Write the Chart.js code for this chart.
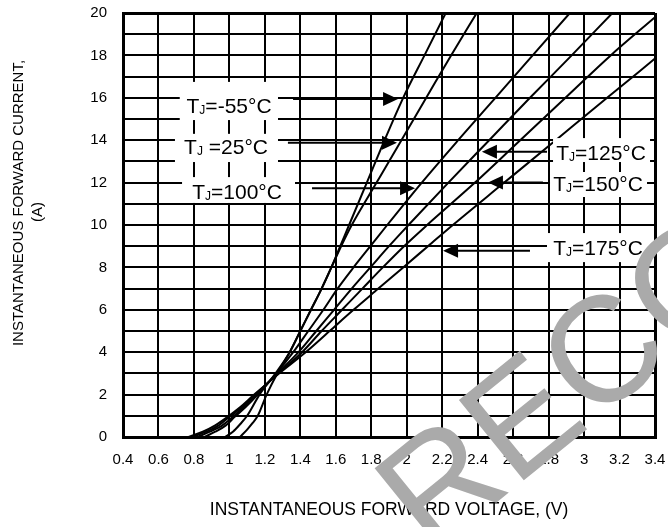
<!DOCTYPE html>
<html>
<head>
<meta charset="utf-8">
<script src="https://cdn.jsdelivr.net/npm/chart.js@4.4.0/dist/chart.umd.min.js"></script>
<style>
  html, body { margin: 0; padding: 0; background: #fff; }
</style>
</head>
<body>
<canvas id="ivChart" width="668" height="527"></canvas>
<script>
// axis ticks
const xTicks = [0.4, 0.6, 0.8, 1.0, 1.2, 1.4, 1.6, 1.8, 2.0, 2.2, 2.4, 2.6, 2.8, 3.0, 3.2, 3.4];
const xTickLabels = ['0.4', '0.6', '0.8', '1', '1.2', '1.4', '1.6', '1.8', '2', '2.2', '2.4', '2.6', '2.8', '3', '3.2', '3.4'];
const yTicks = [0, 1, 2, 3, 4, 5, 6, 7, 8, 9, 10, 11, 12, 13, 14, 15, 16, 17, 18, 19, 20];
const yTickLabels = ['0', '', '2', '', '4', '', '6', '', '8', '', '10', '', '12', '', '14', '', '16', '', '18', '', '20'];

// forward voltage (V) / forward current (A) per junction temperature
const vM55 = [1.06, 1.10, 1.13, 1.16, 1.21, 1.27, 1.34, 1.40, 1.46, 1.52, 1.575, 1.625, 1.675, 1.775, 1.875, 1.98, 2.10, 2.22];
const iM55 = [0, 0.35, 0.65, 1, 2, 3, 4, 5, 6, 7, 8, 9, 10, 12, 14, 16, 18, 20];

const v25 = [0.975, 1.02, 1.06, 1.10, 1.17, 1.26, 1.34, 1.40, 1.46, 1.52, 1.575, 1.63, 1.69, 1.83, 1.97, 2.11, 2.25, 2.395];
const i25 = [0, 0.25, 0.6, 1, 2, 3, 4, 5, 6, 7, 8, 9, 10, 12, 14, 16, 18, 20];

const v100 = [0.86, 0.92, 0.98, 1.03, 1.09, 1.16, 1.265, 1.36, 1.445, 1.53, 1.61, 1.70, 1.795, 1.89, 2.085, 2.29, 2.50, 2.71, 2.92];
const i100 = [0, 0.25, 0.55, 0.95, 1.4, 2, 3, 4, 5, 6, 7, 8, 9, 10, 12, 14, 16, 18, 20];

const v125 = [0.82, 0.89, 0.96, 1.02, 1.08, 1.15, 1.27, 1.39, 1.49, 1.59, 1.69, 1.795, 1.90, 2.01, 2.235, 2.465, 2.695, 2.93, 3.16];
const i125 = [0, 0.25, 0.55, 0.95, 1.4, 2, 3, 4, 5, 6, 7, 8, 9, 10, 12, 14, 16, 18, 20];

const v150 = [0.79, 0.87, 0.94, 1.00, 1.07, 1.145, 1.275, 1.41, 1.52, 1.635, 1.75, 1.865, 1.985, 2.115, 2.385, 2.64, 2.895, 3.15, 3.40];
const i150 = [0, 0.25, 0.55, 0.95, 1.4, 2, 3, 4, 5, 6, 7, 8, 9, 10, 12, 14, 16, 18, 19.8];

const v175 = [0.77, 0.85, 0.92, 0.99, 1.06, 1.14, 1.28, 1.43, 1.565, 1.70, 1.84, 1.98, 2.12, 2.26, 2.55, 2.84, 3.13, 3.40];
const i175 = [0, 0.25, 0.55, 0.95, 1.4, 2, 3, 4, 5, 6, 7, 8, 9, 10, 12, 14, 16, 17.85];

const FONT = '"Liberation Sans", Arial, sans-serif';

const toPoints = (v, i) => v.map((x, k) => ({ x: x, y: i[k] }));

const curve = (label, v, i) => ({
  label: label,
  data: toPoints(v, i),
  showLine: true,
  borderColor: '#000',
  borderWidth: 2,
  pointRadius: 0,
  cubicInterpolationMode: 'monotone'
});

// callouts, placed in data units (V, A)
const callouts = [
  { sub: 'J', post: '=-55°C', at: [0.998, 15.66], box: [0.72, 1.274, 16.75, 14.95], arrow: [1.359, 1.951, 15.94] },
  { sub: 'J', post: ' =25°C', at: [0.981, 13.68], box: [0.693, 1.274, 14.3, 12.97], arrow: [1.33, 1.945, 13.88] },
  { sub: 'J', post: '=100°C', at: [1.043, 11.56], box: [0.733, 1.37, 12.26, 11.04], arrow: [1.466, 2.047, 11.73] },
  { sub: 'J', post: '=125°C', at: [3.096, 13.44], box: [2.825, 3.372, 14.1, 12.97], arrow: [2.791, 2.424, 13.46] },
  { sub: 'J', post: '=150°C', at: [3.079, 11.98], box: [2.808, 3.355, 12.5, 11.32], arrow: [2.768, 2.458, 12.0] },
  { sub: 'J', post: '=175°C', at: [3.079, 8.92], box: [2.791, 3.389, 9.62, 8.25], arrow: [2.695, 2.205, 8.79] }
];

const calloutPlugin = {
  id: 'callouts',
  afterDatasetsDraw(chart) {
    const { ctx, scales: { x, y } } = chart;
    ctx.save();
    callouts.forEach(c => {
      // white box
      const bx1 = x.getPixelForValue(c.box[0]), bx2 = x.getPixelForValue(c.box[1]);
      const by1 = y.getPixelForValue(c.box[2]), by2 = y.getPixelForValue(c.box[3]);
      ctx.fillStyle = '#fff';
      ctx.fillRect(bx1, by1, bx2 - bx1, by2 - by1);

      // text T_J=...
      const cx = x.getPixelForValue(c.at[0]), cy = y.getPixelForValue(c.at[1]);
      ctx.font = '21px ' + FONT;
      const wT = ctx.measureText('T').width;
      const wPost = ctx.measureText(c.post).width;
      ctx.font = '12px ' + FONT;
      const wSub = ctx.measureText(c.sub).width;
      let tx = cx - (wT + wSub + wPost) / 2;
      const base = cy + 7.5;
      ctx.fillStyle = '#000';
      ctx.textBaseline = 'alphabetic';
      ctx.textAlign = 'left';
      ctx.font = '21px ' + FONT;
      ctx.fillText('T', tx, base);
      ctx.font = '12px ' + FONT;
      ctx.fillText(c.sub, tx + wT, base + 1);
      ctx.font = '21px ' + FONT;
      ctx.fillText(c.post, tx + wT + wSub, base);

      // arrow
      const ax1 = x.getPixelForValue(c.arrow[0]), ax2 = x.getPixelForValue(c.arrow[1]);
      const ay = y.getPixelForValue(c.arrow[2]);
      const dir = ax2 > ax1 ? 1 : -1;
      ctx.strokeStyle = '#000';
      ctx.lineWidth = 2;
      ctx.beginPath();
      ctx.moveTo(ax1, ay);
      ctx.lineTo(ax2 - dir * 10, ay);
      ctx.stroke();
      ctx.beginPath();
      ctx.moveTo(ax2, ay);
      ctx.lineTo(ax2 - dir * 15, ay - 7);
      ctx.lineTo(ax2 - dir * 15, ay + 7);
      ctx.closePath();
      ctx.fill();
    });
    ctx.restore();
  },
  afterDraw(chart) {
    const ctx = chart.ctx;
    ctx.save();
    // y axis title, two lines
    ctx.fillStyle = '#000';
    ctx.font = '15px ' + FONT;
    ctx.textAlign = 'center';
    ctx.textBaseline = 'middle';
    ctx.translate(19, 203);
    ctx.rotate(-Math.PI / 2);
    ctx.fillText('INSTANTANEOUS FORWARD CURRENT,', 0, 0);
    ctx.fillText('(A)', -9, 19);
    ctx.restore();

    // grey watermark
    ctx.save();
    ctx.fillStyle = '#aaaaaa';
    ctx.font = '150px ' + FONT;
    ctx.textAlign = 'left';
    ctx.textBaseline = 'alphabetic';
    ctx.translate(592, 425);
    ctx.rotate(-39 * Math.PI / 180);
    const off = ctx.measureText('RE').width;
    ctx.fillText('RECOMMENDED', -off, 0);
    ctx.restore();
  }
};

const edgeWidth = (last) => (c) => (c.index === 0 || c.index === last ? 3 : 2);

new Chart(document.getElementById('ivChart').getContext('2d'), {
  type: 'scatter',
  data: {
    datasets: [
      curve('TJ=-55°C', vM55, iM55),
      curve('TJ=25°C', v25, i25),
      curve('TJ=100°C', v100, i100),
      curve('TJ=125°C', v125, i125),
      curve('TJ=150°C', v150, i150),
      curve('TJ=175°C', v175, i175)
    ]
  },
  options: {
    responsive: false,
    animation: false,
    devicePixelRatio: 1,
    layout: { padding: { top: 13, right: 13, left: 0, bottom: 0 } },
    scales: {
      x: {
        type: 'linear',
        min: 0.4,
        max: 3.4,
        afterBuildTicks: s => { s.ticks = xTicks.map(v => ({ value: v })); },
        afterFit: s => { s.height = 90; s.paddingLeft = 0; s.paddingRight = 0; },
        grid: { color: '#000', lineWidth: edgeWidth(xTicks.length - 1), drawTicks: false },
        border: { color: '#000', width: 3 },
        ticks: {
          autoSkip: false,
          maxRotation: 0,
          padding: 14,
          color: '#000',
          font: { family: FONT, size: 15 },
          callback: (v, i) => xTickLabels[i]
        },
        title: {
          display: true,
          text: 'INSTANTANEOUS FORWARD VOLTAGE, (V)',
          color: '#000',
          font: { family: FONT, size: 17.5 },
          padding: { top: 0, bottom: 6 }
        }
      },
      y: {
        min: 0,
        max: 20,
        afterBuildTicks: s => { s.ticks = yTicks.map(v => ({ value: v })); },
        afterFit: s => { s.width = 123; s.paddingTop = 0; s.paddingBottom = 0; },
        grid: { color: '#000', lineWidth: edgeWidth(yTicks.length - 1), drawTicks: false },
        border: { color: '#000', width: 3 },
        ticks: {
          autoSkip: false,
          padding: 16,
          color: '#000',
          font: { family: FONT, size: 15 },
          callback: (v, i) => yTickLabels[i]
        }
      }
    },
    plugins: {
      legend: { display: false },
      tooltip: { enabled: false }
    }
  },
  plugins: [calloutPlugin]
});
</script>
</body>
</html>
